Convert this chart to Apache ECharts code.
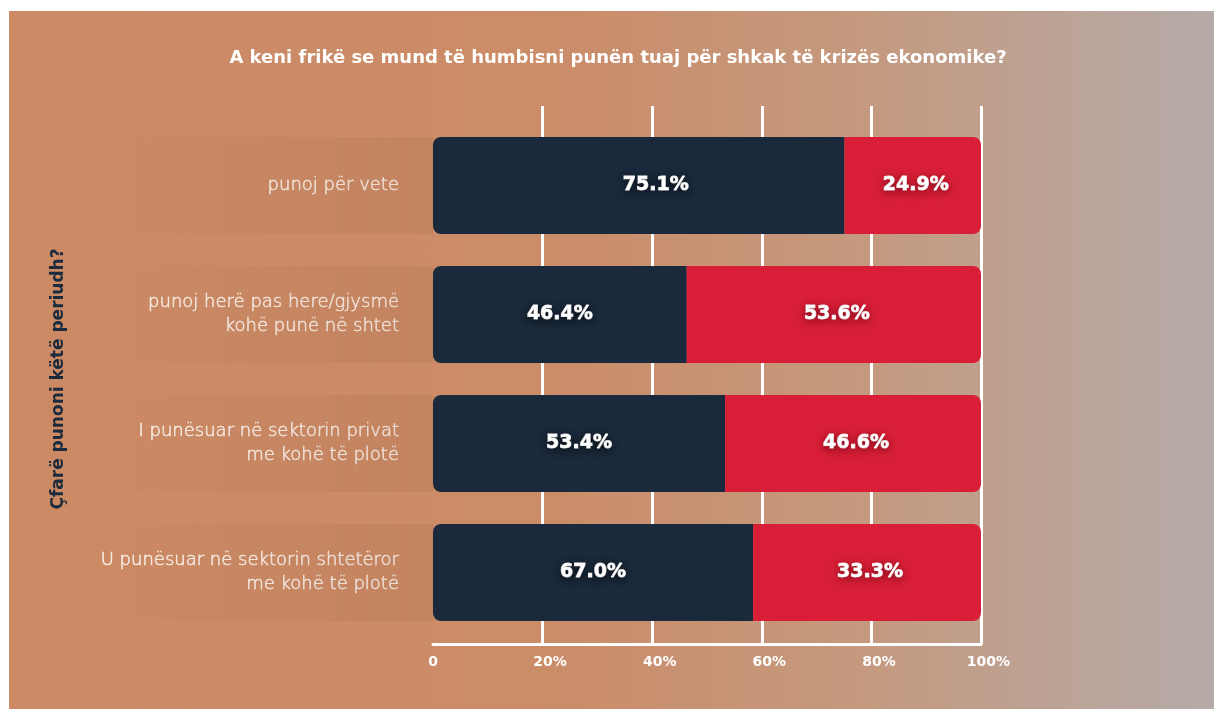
<!DOCTYPE html>
<html>
<head>
<meta charset="utf-8">
<script src="https://cdn.jsdelivr.net/npm/echarts@6/dist/echarts.min.js"></script>
<style>
  html, body { margin: 0; padding: 0; background: #fff; }
  #bg {
    position: absolute; left: 9px; top: 11px; right: 0; bottom: 0;
    background: linear-gradient(90deg, #cc8a64 0%, #cb8c68 45%, #c49a80 72%, #b5aaa8 100%);
  }
  #chart { position: absolute; left: 0; top: 0; width: 1214px; height: 709px; }
</style>
</head>
<body>
<div id="bg"></div>
<div id="chart"></div>
<script>
/* Data */
const categories = [
    'punoj për vete',
    'punoj herë pas here/gjysmë\nkohë punë në shtet',
    'I punësuar në sektorin privat\nme kohë të plotë',
    'U punësuar në sektorin shtetëror\nme kohë të plotë'
];
// bar lengths as drawn
const darkValues = [75.1, 46.3, 53.3, 58.4];
const redValues = [24.9, 53.7, 46.7, 41.6];
// labels as printed on the bars
const darkLabels = ['75.1%', '46.4%', '53.4%', '67.0%'];
const redLabels = ['24.9%', '53.6%', '46.6%', '33.3%'];
const tickValues = [0, 20, 40, 60, 80, 100];

const fontMain = "'DejaVu Sans', sans-serif";

let chartDom = document.getElementById('chart');
let myChart = echarts.init(chartDom, null, { renderer: 'canvas' });

const valueLabel = (labels, shadow, dx) => ({
    show: true,
    position: 'inside',
    offset: [dx, 0],
    formatter: p => labels[p.dataIndex],
    color: '#fff',
    fontFamily: fontMain,
    fontWeight: 900,
    fontSize: 19,
    textBorderColor: '#fff',
    textBorderWidth: 0.9,
    textShadowColor: shadow,
    textShadowBlur: 9,
    textShadowOffsetY: 2
});

let option = {
    backgroundColor: 'transparent',
    title: {
        text: 'A keni frikë se mund të humbisni punën tuaj për shkak të krizës ekonomike?',
        left: 613,
        textAlign: 'center',
        top: 44,
        textStyle: {
            color: '#fff',
            fontFamily: fontMain,
            fontWeight: 700,
            fontSize: 18
        }
    },
    grid: [
        // bars
        { left: 433, right: 233, top: 121, height: 516 },
        // grid lines + axis
        { left: 433, right: 233, top: 106, bottom: 65 }
    ],
    xAxis: [
        { gridIndex: 0, type: 'value', min: 0, max: 100, show: false },
        {
            gridIndex: 1, type: 'value', min: 0, max: 100, interval: 20,
            axisLine: { show: true, lineStyle: { color: '#fff', width: 3 } },
            axisTick: { show: false },
            splitLine: { show: true, showMinLine: false, lineStyle: { color: '#fff', width: 3 } },
            axisLabel: {
                color: '#fff', margin: 11,
                formatter: v => tickValues.includes(v) ? (v === 0 ? '{z|0}' : '{a|' + v + '%}') : '',
                rich: {
                    z: { color: '#fff', fontFamily: fontMain, fontWeight: 700, fontSize: 14 },
                    a: { color: '#fff', fontFamily: fontMain, fontWeight: 700, fontSize: 14, padding: [0, 0, 0, 15] }
                }
            }
        }
    ],
    yAxis: [
        {
            gridIndex: 0, type: 'category', data: categories, inverse: true,
            axisLine: { show: false }, axisTick: { show: false },
            axisLabel: {
                color: '#f8eee7', fontFamily: fontMain, fontWeight: 200, fontSize: 18,
                textBorderColor: '#f8eee7', textBorderWidth: 0.5,
                lineHeight: 24, margin: 34, align: 'right'
            },
            name: 'Çfarë punoni këtë periudh?',
            nameLocation: 'middle',
            nameRotate: 90,
            nameGap: 366,
            nameTextStyle: { color: '#1b2a3c', fontFamily: fontMain, fontWeight: 700, fontSize: 17 }
        },
        { gridIndex: 1, type: 'value', show: false }
    ],
    series: [
        {
            // soft band behind each category label
            type: 'custom',
            xAxisIndex: 0, yAxisIndex: 0,
            silent: true,
            z: 1,
            clip: false,
            data: categories.map((c, i) => [0, i]),
            renderItem: (params, api) => {
                const p = api.coord([0, api.value(1)]);
                const h = api.size([0, 1])[1] * 0.752;
                return {
                    type: 'rect',
                    shape: { x: p[0] - 335, y: p[1] - h / 2, width: 335, height: h },
                    style: {
                        fill: new echarts.graphic.LinearGradient(0, 0, 1, 0, [
                            { offset: 0, color: 'rgba(140,80,50,0)' },
                            { offset: 1, color: 'rgba(140,80,50,0.13)' }
                        ])
                    }
                };
            }
        },
        {
            name: 'dark',
            type: 'bar',
            stack: 'total',
            xAxisIndex: 0, yAxisIndex: 0,
            barWidth: 97,
            // first label sits right of centre in the original
            data: darkValues.map((v, i) => i === 0 ? { value: v, label: { offset: [17, 0] } } : v),
            itemStyle: { color: '#1a293b', borderRadius: [8, 0, 0, 8] },
            label: valueLabel(darkLabels, 'rgba(0,0,0,0.6)', 0)
        },
        {
            name: 'red',
            type: 'bar',
            stack: 'total',
            xAxisIndex: 0, yAxisIndex: 0,
            barWidth: 97,
            data: redValues,
            itemStyle: { color: '#d91f37', borderRadius: [0, 8, 8, 0] },
            label: valueLabel(redLabels, 'rgba(90,0,10,0.65)', 3)
        }
    ]
};

option && myChart.setOption(option);

window.addEventListener('resize', () => {
    myChart.resize();
});
</script>
</body>
</html>
